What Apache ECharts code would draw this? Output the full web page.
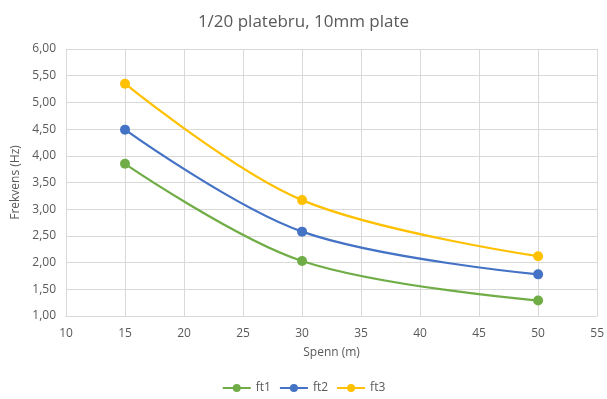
<!DOCTYPE html>
<html><head><meta charset="utf-8">
<script src="https://cdn.jsdelivr.net/npm/echarts@6/dist/echarts.min.js"></script>
<style>html,body{margin:0;padding:0;background:#fff}#c{width:607px;height:399px}</style>
</head><body><div id="c"></div>
<script>
var spans = [15, 30, 50];
var ft1 = [3.85, 2.03, 1.29];
var ft2 = [4.49, 2.58, 1.78];
var ft3 = [5.35, 3.17, 2.12];
var seriesNames = ['ft1', 'ft2', 'ft3'];
var colors = ['#70AD47', '#4472C4', '#FFC000'];
var values = [ft1, ft2, ft3];

var font = 'Open Sans, Liberation Sans, sans-serif';
var chart = echarts.init(document.getElementById('c'));
chart.setOption({
  animation: false,
  title: { text: '1/20 platebru, 10mm plate', left: 'center', top: 9,
    textStyle: { color: '#595959', fontSize: 17, fontWeight: 'normal', fontFamily: font } },
  legend: { bottom: 0, left: 'center', itemWidth: 28, itemHeight: 10, itemGap: 8,
    textStyle: { color: '#595959', fontSize: 12, fontFamily: font },
    data: seriesNames },
  grid: { left: 66, right: 7, top: 49, bottom: 83, containLabel: false },
  xAxis: { type: 'value', min: 10, max: 55, interval: 5,
    name: 'Spenn (m)', nameLocation: 'middle', nameGap: 31,
    nameTextStyle: { color: '#595959', fontSize: 12, fontFamily: font },
    axisLine: { show: true, lineStyle: { color: '#D9D9D9' } },
    axisTick: { show: false },
    axisLabel: { color: '#595959', fontSize: 12, fontFamily: font, margin: 12 },
    splitLine: { show: true, lineStyle: { color: '#D9D9D9', width: 1 } } },
  yAxis: { type: 'value', min: 1, max: 6, interval: 0.5,
    name: 'Frekvens (Hz)', nameLocation: 'middle', nameGap: 37,
    nameTextStyle: { color: '#595959', fontSize: 12, fontFamily: font },
    axisLine: { show: false }, axisTick: { show: false },
    axisLabel: { color: '#595959', fontSize: 12, fontFamily: font, margin: 10,
      formatter: function (v) { return v.toFixed(2).replace('.', ','); } },
    splitLine: { show: true, lineStyle: { color: '#D9D9D9', width: 1 } } },
  series: seriesNames.map(function (n, i) {
    return { name: n, type: 'line', smooth: 0.35, symbol: 'circle', symbolSize: 10,
      itemStyle: { color: colors[i] },
      lineStyle: { color: colors[i], width: 2.25 },
      data: spans.map(function (x, j) { return [x, values[i][j]]; }) };
  })
});
</script></body></html>
